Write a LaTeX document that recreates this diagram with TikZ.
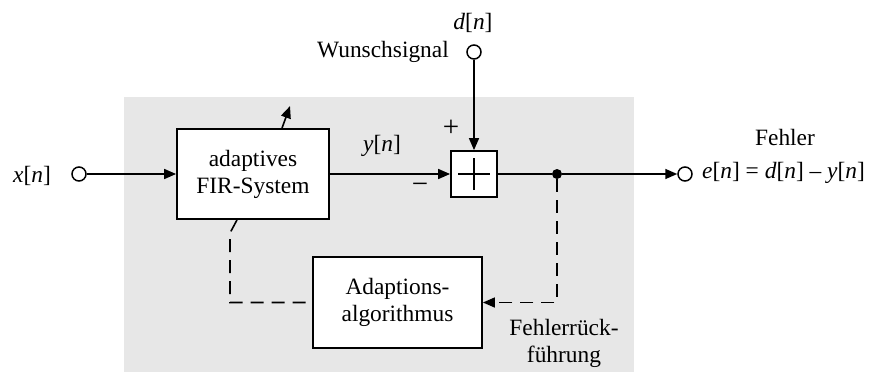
\documentclass[tikz,border=0pt]{standalone}
\usepackage{fontspec}
\setmainfont{Liberation Serif}
\usetikzlibrary{arrows.meta}
\definecolor{bg}{RGB}{231,231,231}
\begin{document}
\begin{tikzpicture}[x=1pt,y=-1pt,
  font=\fontsize{23.4}{27}\selectfont,
  blk/.style={draw, line width=1.8pt, fill=white, inner sep=0pt, align=center},
  port/.style={circle, draw, line width=1.5pt, fill=white, minimum size=14pt, inner sep=0pt},
  sig/.style={line width=1.6pt},
  arr/.style={-{Triangle[length=12pt,width=10pt]}},
  dsh/.style={dash pattern=on 13pt off 8pt},
  lbl/.style={inner sep=0pt}]
\useasboundingbox (0,0) rectangle (869,372);
\fill[bg] (124,97) rectangle (634,372);
% nodes
\node[port] (xin) at (79,174) {};
\node[lbl] (xl) at (32,176) {\textit{x}[\textit{n}]};
\node[blk, minimum width=152pt, minimum height=90pt] (fir) at (253,174) {adaptives\\FIR-System};
\node[blk, minimum size=46pt] (sum) at (474,174) {};
\draw[line width=1.6pt] ([xshift=-16pt]sum.center) -- ([xshift=16pt]sum.center);
\draw[line width=1.6pt] ([yshift=-16pt]sum.center) -- ([yshift=16pt]sum.center);
\node[port] (din) at (474,52) {};
\node[lbl] (dl) at (473,23) {\textit{d}[\textit{n}]};
\node[lbl, anchor=east] (ws) at (449,52) {Wunschsignal};
\node[lbl] (yl) at (382,146) {\textit{y}[\textit{n}]};
\node[lbl] (plus) at (451,128) {\fontsize{29}{30}\selectfont +};
\node[lbl] (minus) at (420,188) {\fontsize{29}{30}\selectfont −};
\node[circle, fill, inner sep=0pt, minimum size=10pt] (dot) at (557,174) {};
\node[port] (eout) at (685,174) {};
\node[lbl, anchor=west] (el) at (702,173) {\textit{e}[\textit{n}] = \textit{d}[\textit{n}] – \textit{y}[\textit{n}]};
\node[lbl] (fl) at (785,137) {Fehler};
\node[blk, minimum width=169pt, minimum height=91pt] (adapt) at (397.5,302.5) {Adaptions-\\algorithmus};
\node[lbl, align=center] (fr) at (564,343) {Fehlerrück-\\führung};
\coordinate (c1) at (230,233);
% connectors
\draw[sig,arr] (xin) -- (fir);
\draw[sig,arr] (fir) -- (sum);
\draw[sig,arr] (din) -- (sum);
\draw[sig] (sum) -- (dot);
\draw[sig,arr] (dot) -- (eout);
\draw[sig,dsh,arr] (dot) -- (dot |- adapt.east) -- (adapt.east);
\draw[sig,dsh] ([xshift=-16pt]fir.south) -- (c1) -- (c1 |- adapt.west) -- (adapt.west);
\draw[sig,dsh,arr] ([xshift=29pt]fir.north) -- ++(8,-22);
\end{tikzpicture}
\end{document}
